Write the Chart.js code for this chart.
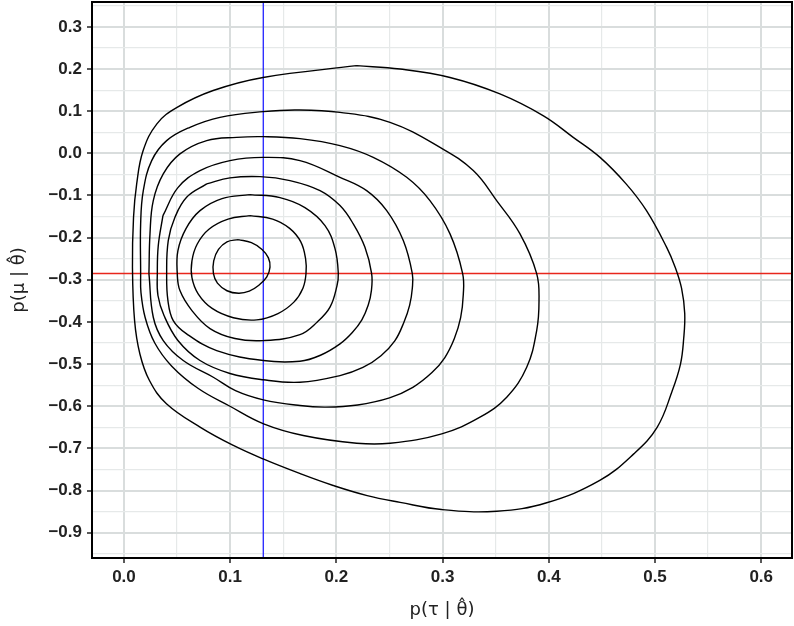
<!DOCTYPE html>
<html>
<head>
<meta charset="utf-8">
<script src="https://cdn.jsdelivr.net/npm/chart.js@4.4.1/dist/chart.umd.min.js"></script>
<style>
  html, body { margin: 0; padding: 0; background: #fff; }
  #contourChart { display: block; }
</style>
</head>
<body>
<canvas id="contourChart" width="794" height="626"></canvas>
<script>
// contour levels, [tau, mu], innermost first
var level1 = [[0.1076,-0.2046],[0.1200,-0.2120],[0.1300,-0.2280],[0.1360,-0.2480],[0.1375,-0.2700],[0.1345,-0.2930],[0.1270,-0.3130],[0.1180,-0.3270],[0.1080,-0.3320],[0.0970,-0.3260],[0.0880,-0.3080],[0.0842,-0.2850],[0.0845,-0.2550],[0.0890,-0.2280],[0.0970,-0.2100]];
var level2 = [[0.1186,-0.1477],[0.1400,-0.1560],[0.1560,-0.1780],[0.1665,-0.2100],[0.1710,-0.2500],[0.1714,-0.2853],[0.1685,-0.3200],[0.1600,-0.3530],[0.1450,-0.3800],[0.1250,-0.3950],[0.1030,-0.3900],[0.0830,-0.3680],[0.0700,-0.3340],[0.0640,-0.2950],[0.0640,-0.2550],[0.0690,-0.2150],[0.0800,-0.1800],[0.0980,-0.1560]];
var level3 = [[0.1186,-0.0979],[0.1469,-0.1050],[0.1704,-0.1288],[0.1893,-0.1714],[0.1987,-0.2260],[0.2018,-0.2853],[0.2005,-0.3150],[0.1940,-0.3650],[0.1820,-0.4000],[0.1657,-0.4300],[0.1312,-0.4442],[0.1045,-0.4394],[0.0810,-0.4157],[0.0640,-0.3730],[0.0527,-0.3256],[0.0502,-0.2853],[0.0508,-0.2307],[0.0584,-0.1785],[0.0716,-0.1359],[0.0923,-0.1074]];
var level4 = [[0.0779,-0.0726],[0.0998,-0.0583],[0.1281,-0.0553],[0.1563,-0.0647],[0.1846,-0.0885],[0.2034,-0.1240],[0.2159,-0.1674],[0.2269,-0.2229],[0.2332,-0.2853],[0.2330,-0.3250],[0.2300,-0.3600],[0.2240,-0.3950],[0.2150,-0.4250],[0.2034,-0.4520],[0.1850,-0.4790],[0.1657,-0.4932],[0.1312,-0.4916],[0.0873,-0.4679],[0.0590,-0.4283],[0.0464,-0.3967],[0.0414,-0.3493],[0.0402,-0.2853],[0.0417,-0.2070],[0.0480,-0.1518],[0.0590,-0.1043]];
var level5 = [[0.0367,-0.1477],[0.0508,-0.0813],[0.0716,-0.0410],[0.0998,-0.0173],[0.1309,-0.0095],[0.1657,-0.0173],[0.2034,-0.0569],[0.2285,-0.0885],[0.2474,-0.1359],[0.2630,-0.2070],[0.2715,-0.2853],[0.2715,-0.3200],[0.2690,-0.3600],[0.2637,-0.4000],[0.2550,-0.4450],[0.2420,-0.4800],[0.2250,-0.5080],[0.2034,-0.5272],[0.1657,-0.5430],[0.1312,-0.5373],[0.0998,-0.5223],[0.0716,-0.4915],[0.0508,-0.4440],[0.0377,-0.3847],[0.0320,-0.3373],[0.0314,-0.2853],[0.0323,-0.2189]];
var level6 = [[0.0235,-0.2853],[0.0245,-0.1911],[0.0276,-0.1122],[0.0370,-0.0488],[0.0527,-0.0014],[0.0779,0.0301],[0.1061,0.0379],[0.1312,0.0396],[0.1657,0.0349],[0.2034,0.0183],[0.2347,-0.0095],[0.2662,-0.0569],[0.2881,-0.1122],[0.3070,-0.1911],[0.3189,-0.2853],[0.3195,-0.3350],[0.3170,-0.3900],[0.3110,-0.4400],[0.3020,-0.4850],[0.2900,-0.5200],[0.2720,-0.5550],[0.2500,-0.5800],[0.2200,-0.5970],[0.1900,-0.6020],[0.1657,-0.5983],[0.1312,-0.5848],[0.1050,-0.5630],[0.0841,-0.5312],[0.0558,-0.4916],[0.0370,-0.4442],[0.0276,-0.3889]];
var level7 = [[0.0157,-0.2853],[0.0157,-0.1674],[0.0182,-0.0885],[0.0261,-0.0173],[0.0402,0.0301],[0.0621,0.0617],[0.0904,0.0854],[0.1312,0.0989],[0.1626,0.1029],[0.2034,0.0972],[0.2505,0.0735],[0.2976,0.0142],[0.3289,-0.0410],[0.3509,-0.1122],[0.3729,-0.1911],[0.3886,-0.2853],[0.3908,-0.3493],[0.3886,-0.4205],[0.3792,-0.5075],[0.3604,-0.5786],[0.3352,-0.6260],[0.2992,-0.6654],[0.2505,-0.6877],[0.2191,-0.6877],[0.1688,-0.6694],[0.1315,-0.6417],[0.0998,-0.6000],[0.0700,-0.5580],[0.0450,-0.5050],[0.0290,-0.4500],[0.0200,-0.3900],[0.0160,-0.3300]];
var level8 = [[0.219,0.208],[0.260,0.200],[0.307,0.180],[0.354,0.141],[0.395,0.089],[0.423,0.038],[0.448,-0.009],[0.473,-0.073],[0.492,-0.136],[0.511,-0.223],[0.519,-0.270],[0.525,-0.320],[0.528,-0.380],[0.527,-0.440],[0.524,-0.500],[0.516,-0.565],[0.502,-0.650],[0.480,-0.713],[0.448,-0.776],[0.398,-0.829],[0.351,-0.849],[0.299,-0.845],[0.260,-0.828],[0.229,-0.812],[0.197,-0.788],[0.166,-0.760],[0.131,-0.725],[0.103,-0.693],[0.072,-0.650],[0.040,-0.594],[0.024,-0.539],[0.015,-0.476],[0.010,-0.397],[0.008,-0.270],[0.009,-0.152],[0.012,-0.072],[0.018,0.006],[0.031,0.070],[0.050,0.109],[0.084,0.149],[0.131,0.180]];

var levels = [level1, level2, level3, level4, level5, level6, level7, level8];

// reference lines
var tauHat = 0.1312;
var muHat = -0.2853;

// axis range
var tauRange = [-0.0301, 0.629];
var muRange = [-0.960, 0.359];

var FONT = '"Liberation Sans", Arial, Helvetica, sans-serif';

function isMajor(v) {
    return Math.abs(v * 10 - Math.round(v * 10)) < 1e-6;
}
function fmt(v) {
    if (!isMajor(v)) return '';
    var s = (Math.round(v * 10) / 10).toFixed(1);
    if (s === '-0.0') s = '0.0';
    return s.replace('-', '\u2212');
}

var datasets = levels.map(function (pts) {
    var d = pts.map(function (p) { return { x: p[0], y: p[1] }; });
    d.push({ x: pts[0][0], y: pts[0][1] });
    return {
        data: d,
        showLine: true,
        borderColor: '#000',
        borderWidth: 1.4,
        pointRadius: 0,
        tension: 0.4,
        fill: false
    };
});

datasets.push({
    data: [{ x: tauHat, y: muRange[0] }, { x: tauHat, y: muRange[1] }],
    showLine: true, borderColor: '#3030ff', borderWidth: 1.4, pointRadius: 0, tension: 0
});
datasets.push({
    data: [{ x: tauRange[0], y: muHat }, { x: tauRange[1], y: muHat }],
    showLine: true, borderColor: '#e8261c', borderWidth: 1.5, pointRadius: 0, tension: 0
});

var gridOpts = {
    color: function (c) { return isMajor(c.tick.value) ? '#d9dddd' : '#e6e9e9'; },
    lineWidth: function (c) { return isMajor(c.tick.value) ? 2 : 1.2; },
    tickColor: function (c) { return isMajor(c.tick.value) ? '#222' : 'rgba(0,0,0,0)'; },
    tickLength: 5,
    tickWidth: 1.5
};

var framePlugin = {
    id: 'frame',
    afterDatasetsDraw: function (chart) {
        var ctx = chart.ctx, a = chart.chartArea;
        ctx.save();
        ctx.strokeStyle = '#000';
        ctx.lineWidth = 2;
        ctx.strokeRect(a.left, a.top, a.right - a.left, a.bottom - a.top);
        ctx.restore();
    }
};

var ctx = document.getElementById('contourChart').getContext('2d');
var myChart = new Chart(ctx, {
    type: 'scatter',
    data: { datasets: datasets },
    options: {
        responsive: false,
        animation: false,
        events: [],
        layout: { padding: { top: 2, right: 2, left: 0, bottom: 0 } },
        plugins: { legend: { display: false }, tooltip: { enabled: false } },
        scales: {
            x: {
                type: 'linear',
                min: tauRange[0],
                max: tauRange[1],
                border: { display: false },
                grid: gridOpts,
                ticks: {
                    stepSize: 0.05,
                    includeBounds: false,
                    autoSkip: false,
                    maxRotation: 0,
                    padding: 4,
                    color: '#222',
                    font: { family: FONT, size: 17, weight: 'bold' },
                    callback: function (v) { return fmt(v); }
                },
                title: {
                    display: true,
                    text: 'p(\u03c4 | \u03b8\u0302)',
                    color: '#222',
                    font: { family: '"DejaVu Sans", sans-serif', size: 18 },
                    padding: { top: 0, bottom: 5 }
                },
                afterFit: function (scale) {
                    scale.height = 68;
                    scale.paddingLeft = 0;
                    scale.paddingRight = 0;
                }
            },
            y: {
                type: 'linear',
                min: muRange[0],
                max: muRange[1],
                border: { display: false },
                grid: gridOpts,
                ticks: {
                    stepSize: 0.05,
                    includeBounds: false,
                    autoSkip: false,
                    padding: 5,
                    color: '#222',
                    font: { family: FONT, size: 17, weight: 'bold' },
                    callback: function (v) { return fmt(v); }
                },
                title: {
                    display: true,
                    text: 'p(\u03bc | \u03b8\u0302)',
                    color: '#222',
                    font: { family: '"DejaVu Sans", sans-serif', size: 18 },
                    padding: { top: 9, bottom: 0 }
                },
                afterFit: function (scale) {
                    scale.width = 92;
                    scale.paddingTop = 0;
                    scale.paddingBottom = 0;
                }
            }
        }
    },
    plugins: [framePlugin]
});
</script>
</body>
</html>
